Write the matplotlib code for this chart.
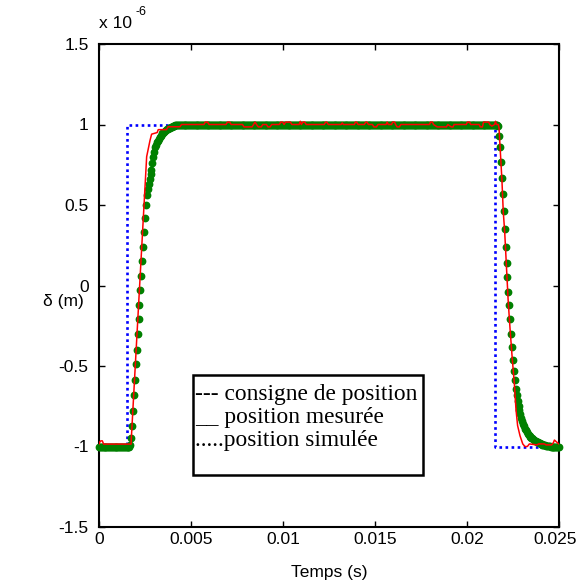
import numpy as np
import matplotlib
matplotlib.use("Agg")
import matplotlib.pyplot as plt
import matplotlib.transforms as mtransforms
from matplotlib.patches import Rectangle

plt.rcParams['font.family'] = ['Liberation Sans', 'DejaVu Sans']
plt.rcParams['axes.unicode_minus'] = False

# Setpoint (consigne de position), in units of 1e-6 m
consigne_t = [0.0, 0.0015, 0.0015, 0.0215, 0.0215, 0.025]
consigne_v = [-1.0, -1.0, 1.0, 1.0, -1.0, -1.0]

# Measured position (position mesuree)
mesure_t = [0.0, 0.00005, 0.0001, 0.00018, 0.00025, 0.00174,
            0.00259, 0.00277, 0.00286, 0.00316, 0.00322, 0.00367, 0.00376, 0.0044, 0.00448,
            0.0057, 0.00578, 0.0059, 0.00598, 0.0069, 0.00698, 0.0071, 0.00718,
            0.0078, 0.00788, 0.00832, 0.0084, 0.00848, 0.00856, 0.00866, 0.00882, 0.0089,
            0.0091, 0.00918, 0.0093, 0.00938, 0.0098, 0.00988, 0.00998, 0.01006,
            0.01014, 0.0104, 0.01048, 0.01088, 0.01094, 0.011, 0.01108, 0.01118, 0.01126,
            0.01224, 0.01232, 0.01238, 0.01246, 0.01316, 0.01322, 0.01328,
            0.01388, 0.01394, 0.014, 0.01408, 0.01442, 0.0145, 0.01456, 0.01464,
            0.01486, 0.01494, 0.01508, 0.01516, 0.0156, 0.01566, 0.01572,
            0.0159, 0.01596, 0.01606, 0.01612, 0.0162, 0.01632, 0.0164,
            0.01796, 0.01802, 0.01812, 0.01818, 0.01838, 0.01888, 0.01896,
            0.01914, 0.01924, 0.0193, 0.01996, 0.02002, 0.02014, 0.0202,
            0.02066, 0.02072, 0.02084, 0.0209, 0.02118, 0.02124, 0.02135, 0.0215,
            0.02155, 0.0216, 0.0217,
            0.02174, 0.02179, 0.02185, 0.0219, 0.02197, 0.02205, 0.02216, 0.02224,
            0.02234, 0.02245, 0.02258, 0.02266, 0.02275, 0.02288, 0.02303, 0.02315,
            0.02328, 0.02339, 0.0238, 0.0239, 0.0242, 0.0243, 0.0246, 0.0247,
            0.02475, 0.0249, 0.025]
mesure_v = [-0.985, -0.97, -0.965, -0.965, -0.985, -0.985,
            0.80, 0.90, 0.94, 0.95, 0.968, 0.968, 0.986, 0.986, 1.0,
            1.0, 1.015, 1.015, 1.0, 1.0, 1.015, 1.015, 1.0,
            1.0, 0.985, 0.985, 1.0, 1.015, 1.0, 0.985, 0.985, 1.0,
            1.0, 0.985, 0.985, 1.0, 1.0, 1.015, 1.015, 1.0,
            1.015, 1.015, 1.0, 1.0, 1.02, 1.0, 1.015, 1.015, 1.0,
            1.0, 1.015, 1.015, 1.0, 1.0, 1.01, 1.0,
            1.0, 1.015, 1.015, 1.0, 1.0, 1.015, 1.015, 1.0,
            1.0, 0.985, 0.985, 1.0, 1.0, 1.015, 1.0,
            1.0, 1.015, 1.015, 1.0, 0.985, 0.985, 1.0,
            1.0, 1.015, 1.015, 1.0, 0.985, 0.985, 1.0,
            0.985, 0.985, 1.0, 1.0, 1.015, 1.015, 1.0,
            1.0, 0.985, 0.985, 1.015, 1.015, 1.0, 0.99, 1.0,
            1.02, 1.0, 1.0,
            0.98, 0.88, 0.76, 0.65, 0.46, 0.33, 0.08, -0.10,
            -0.27, -0.44, -0.62, -0.767, -0.87, -0.933, -0.984, -1.0,
            -1.0, -0.984, -0.99, -0.984, -0.984, -0.99, -0.99, -0.975,
            -0.96, -0.975, -0.985]

# Simulated position (position simulee), sampled every 50 microseconds
sim_rise = [-0.99, -0.95, -0.87, -0.78, -0.68, -0.59, -0.49, -0.40, -0.30, -0.21,
            -0.12, -0.03, 0.06, 0.15, 0.24, 0.33, 0.42, 0.50, 0.56, 0.60,
            0.63, 0.66, 0.69, 0.72, 0.76, 0.80, 0.83, 0.86, 0.875, 0.89,
            0.90, 0.91, 0.92, 0.93, 0.94, 0.945, 0.95, 0.955, 0.96, 0.965,
            0.97, 0.973, 0.976, 0.98, 0.983, 0.986, 0.989, 0.991, 0.993, 0.995,
            0.997, 0.998]
sim_fall = [0.99, 0.93, 0.86, 0.77, 0.67, 0.57, 0.46, 0.35, 0.24, 0.14,
            0.05, -0.04, -0.12, -0.21, -0.30, -0.38, -0.46, -0.53, -0.59, -0.64,
            -0.68, -0.72, -0.75, -0.775, -0.80, -0.82, -0.84, -0.86, -0.875, -0.89,
            -0.90, -0.91, -0.92, -0.928, -0.934, -0.94, -0.945, -0.95, -0.955, -0.96,
            -0.964, -0.968, -0.972, -0.975, -0.978, -0.981, -0.984, -0.986, -0.988, -0.99,
            -0.992, -0.993, -0.994, -0.995, -0.996, -0.997, -0.998]
sim_v = [-1.0] * 34 + sim_rise + [1.0] * 348 + sim_fall + [-1.0] * 10
sim_t = np.linspace(0.0, 0.025, len(sim_v))

xticks = [0, 0.005, 0.01, 0.015, 0.02, 0.025]
xtick_labels = ['0', '0.005', '0.01', '0.015', '0.02', '0.025']
yticks = [-1.5, -1, -0.5, 0, 0.5, 1, 1.5]
ytick_labels = ['-1.5', '-1', '-0.5', '0', '0.5', '1', '1.5']

legend_lines = ['--- consigne de position', '__ position mesurée', '.....position simulée']

FS = 12.5
W, H = 579, 582
fig = plt.figure(figsize=(W / 100, H / 100), dpi=100)
ax = fig.add_axes([99 / W, 1 - 527 / H, 460 / W, 483 / H])

ax.plot(consigne_t, consigne_v, color='#0000ff', lw=1.9, ls=(0, (1, 1.3)), zorder=2)
ax.plot(sim_t, sim_v, ls='none', marker='o', ms=4.6, color='#008000',
        mec='#008000', zorder=3, clip_on=False)
ax.plot(mesure_t, mesure_v, color='#ff0000', lw=1.1, zorder=4)

ax.set_xlim(0, 0.025)
ax.set_ylim(-1.5, 1.5)
ax.set_xticks(xticks)
ax.set_xticklabels(xtick_labels)
ax.set_yticks(yticks)
ax.set_yticklabels(ytick_labels)
ax.tick_params(direction='in', length=4, width=1, top=True, right=True, labelsize=FS)
ax.tick_params(axis='x', pad=3.5)
ax.tick_params(axis='y', pad=7.5)
for s in ax.spines.values():
    s.set_linewidth(1.5)

# nudge the last x tick label so it stays inside the figure
last = ax.get_xticklabels()[-1]
last.set_transform(last.get_transform() +
                   mtransforms.ScaledTranslation(-4 / 100, 0, fig.dpi_scale_trans))

ax.set_xlabel('Temps (s)', fontsize=FS, labelpad=13)
fig.text(84 / W, 1 - 301 / H, 'δ (m)', fontsize=FS, ha='right', va='center')

# exponent label above the y axis
fig.text(99 / W, 1 - 24 / H, 'x 10', fontsize=FS, ha='left', va='center')
fig.text(135 / W, 1 - 12 / H, '-6', fontsize=9, ha='left', va='center')

# text box describing the three curves
box = Rectangle((0.005125, -1.177), 0.0176 - 0.005125, -0.556 + 1.177,
                facecolor='white', edgecolor='black', lw=1.8, zorder=6)
ax.add_patch(box)
for i, line in enumerate(legend_lines):
    ax.text(0.00522, -0.68 - i * 0.142, line, family=['Liberation Serif', 'DejaVu Serif'],
            fontsize=16.8, ha='left', va='center', zorder=7)

fig.savefig('out.png', dpi=100)
